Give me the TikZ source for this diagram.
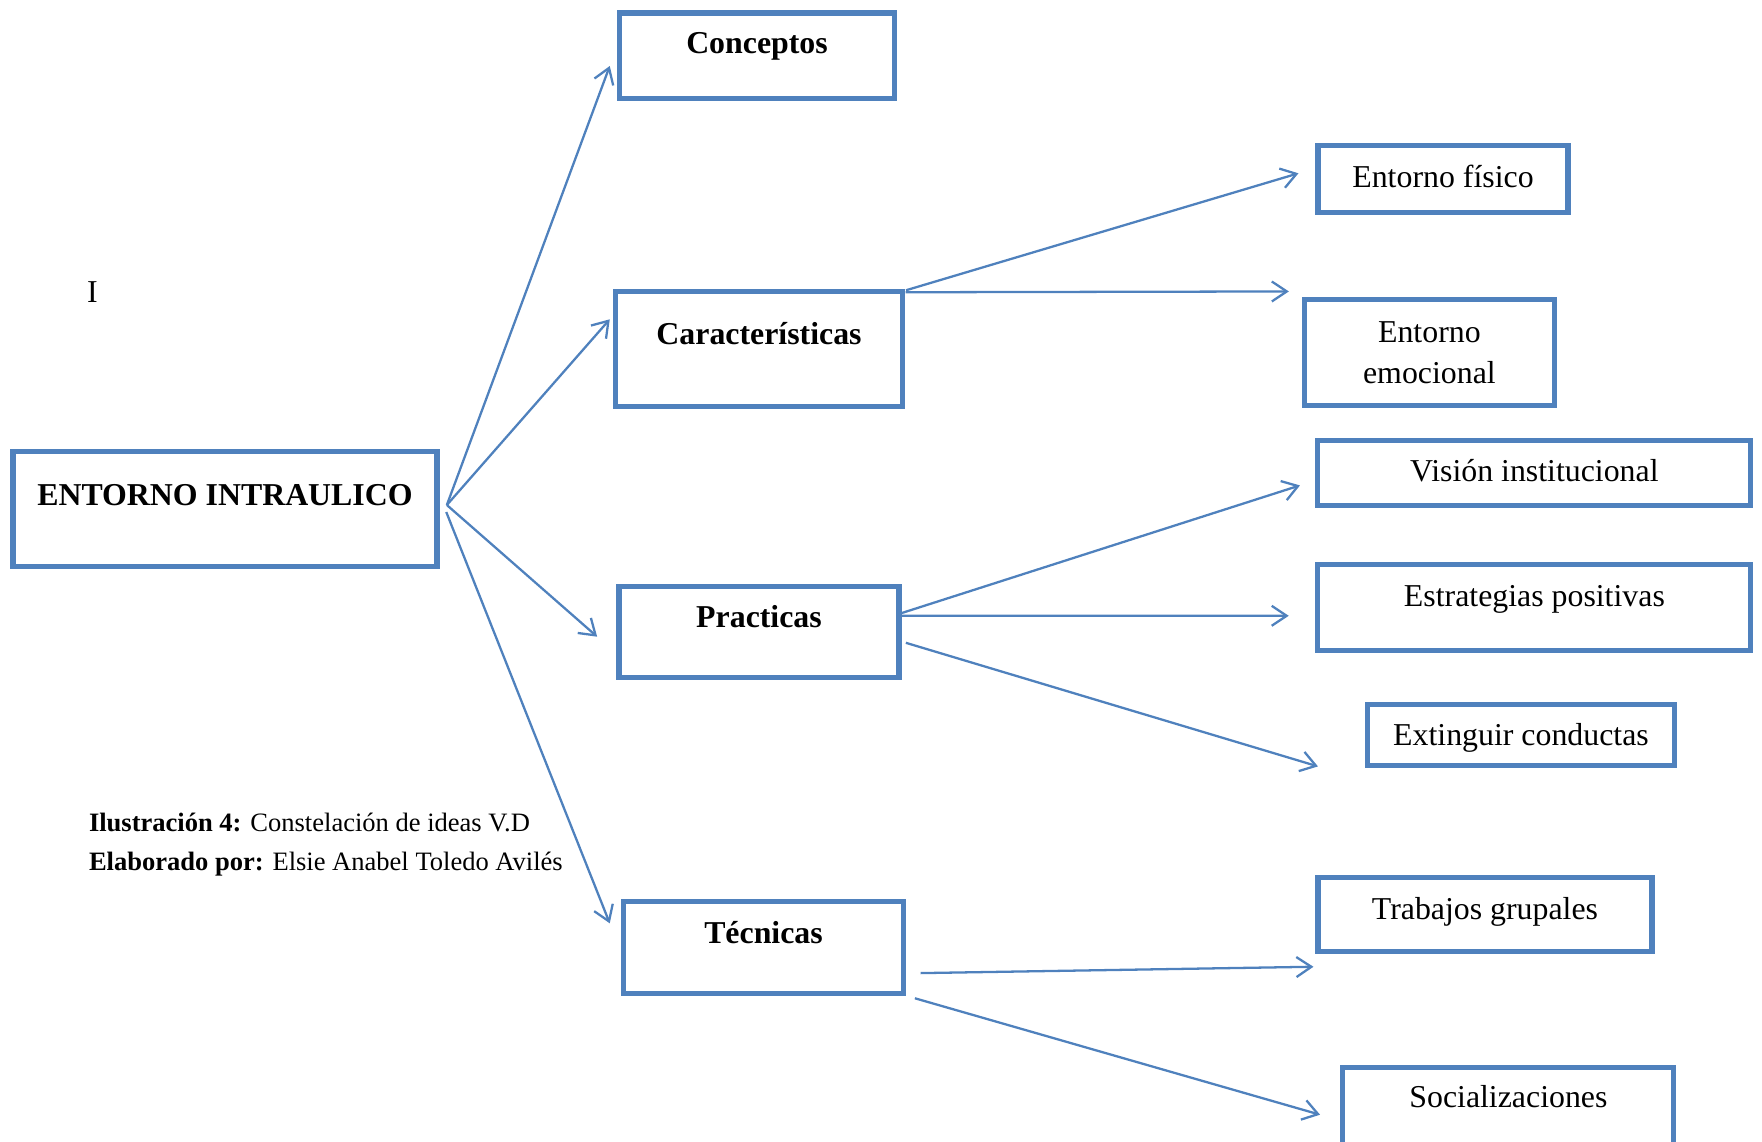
\documentclass[tikz,border=0pt]{standalone}
\usepackage{fontspec}
\setmainfont{Liberation Serif}
\usetikzlibrary{arrows.meta}
\definecolor{wordblue}{RGB}{79,129,189}
\begin{document}
\begin{tikzpicture}[x=0.1mm, y=-0.1mm,
	box/.style n args={3}{draw=wordblue, line width=1.45pt, inner xsep=0pt, inner ysep=0.12mm,
		minimum width=#1, text height=#2, text depth=#3,
		font=\fontsize{9.06}{11.75}\selectfont},
	bbox/.style n args={3}{box={#1}{#2}{#3}, font=\fontsize{9.06}{11.75}\selectfont\bfseries},
	link/.style={draw=wordblue, line width=0.65pt, -{Straight Barb[length=1.5mm,width=2mm]}},
	note/.style={inner sep=0pt, font=\fontsize{7.55}{10.9}\selectfont}]
	\useasboundingbox (0,0) rectangle (1762,1142);

	\node[bbox={42.4mm}{5.3mm}{6mm}] (root) at (225,509) {ENTORNO INTRAULICO};
	\node[bbox={27.5mm}{3.9mm}{4.4mm}] (concep) at (757,55.7) {Conceptos};
	\node[bbox={28.7mm}{5.1mm}{6.1mm}] (caract) at (759,349) {Características};
	\node[bbox={28mm}{4mm}{4.9mm}] (pract) at (759,632) {Practicas};
	\node[bbox={28mm}{4.1mm}{4.9mm}] (tecn) at (763.5,947.3) {Técnicas};

	\node[box={25mm}{4mm}{2.4mm}] (fisico) at (1443,179) {Entorno físico};
	\node[box={25mm}{}{}, minimum height=10.6mm, align=center] (emoc) at (1429.4,352.8) {Entorno\\emocional};
	\node[box={43.3mm}{4mm}{2.3mm}] (vision) at (1534.4,473.1) {Visión institucional};
	\node[box={43.3mm}{4.1mm}{4.2mm}] (estrat) at (1534.4,607.4) {Estrategias positivas};
	\node[box={30.7mm}{4mm}{1.9mm}] (extin) at (1521,735) {Extinguir conductas};
	\node[box={33.4mm}{4.1mm}{3.1mm}] (trab) at (1485,914.7) {Trabajos grupales};
	\node[box={33.1mm}{3.9mm}{3.9mm}] (social) at (1508.4,1107.5) {Socializaciones};

	\node[inner sep=0pt, anchor=base, font=\fontsize{9.06}{11.75}\selectfont] (mark) at (92.5,302.3) {I};
	\node[note, anchor=base west] (cap1) at (88.3,831.7) {\textbf{Ilustración 4:} Constelación de ideas V.D};
	\node[note, anchor=base west] (cap2) at (88.3,870) {\textbf{Elaborado por:} Elsie Anabel Toledo Avilés};

	\draw[link] ([shift={(7.3,-4)}]root.east) -- ([shift={(-7.2,10.3)}]concep.west);
	\draw[link] ([shift={(7.3,-4)}]root.east) -- ([shift={(-3.2,-29.7)}]caract.west);
	\draw[link] ([shift={(7.3,-4)}]root.east) -- ([shift={(-19.3,4.7)}]pract.west);
	\draw[link] ([shift={(6.7,3)}]root.east) -- ([shift={(-11.2,-24)}]tecn.west);

	\draw[link] ([shift={(1,1)}]caract.north east) -- ([shift={(-17,-5.7)}]fisico.west);
	\draw[link] ([shift={(0.5,3)}]caract.north east) -- ([shift={(-13,-5.8)}]emoc.north west);

	\draw[link] ([shift={(-1.3,-18.5)}]pract.east) -- ([shift={(-15.4,12.3)}]vision.west);
	\draw[link] ([shift={(-1.3,-16.2)}]pract.east) -- ([shift={(-26.6,8.4)}]estrat.west);
	\draw[link] ([shift={(4.3,10.8)}]pract.east) -- ([shift={(-47,31.4)}]extin.west);

	\draw[link] ([shift={(14.5,25.8)}]tecn.east) -- ([shift={(-2,12.3)}]trab.south west);
	\draw[link] ([shift={(8.8,2.2)}]tecn.south east) -- ([shift={(-20.3,7.2)}]social.west);
\end{tikzpicture}
\end{document}
